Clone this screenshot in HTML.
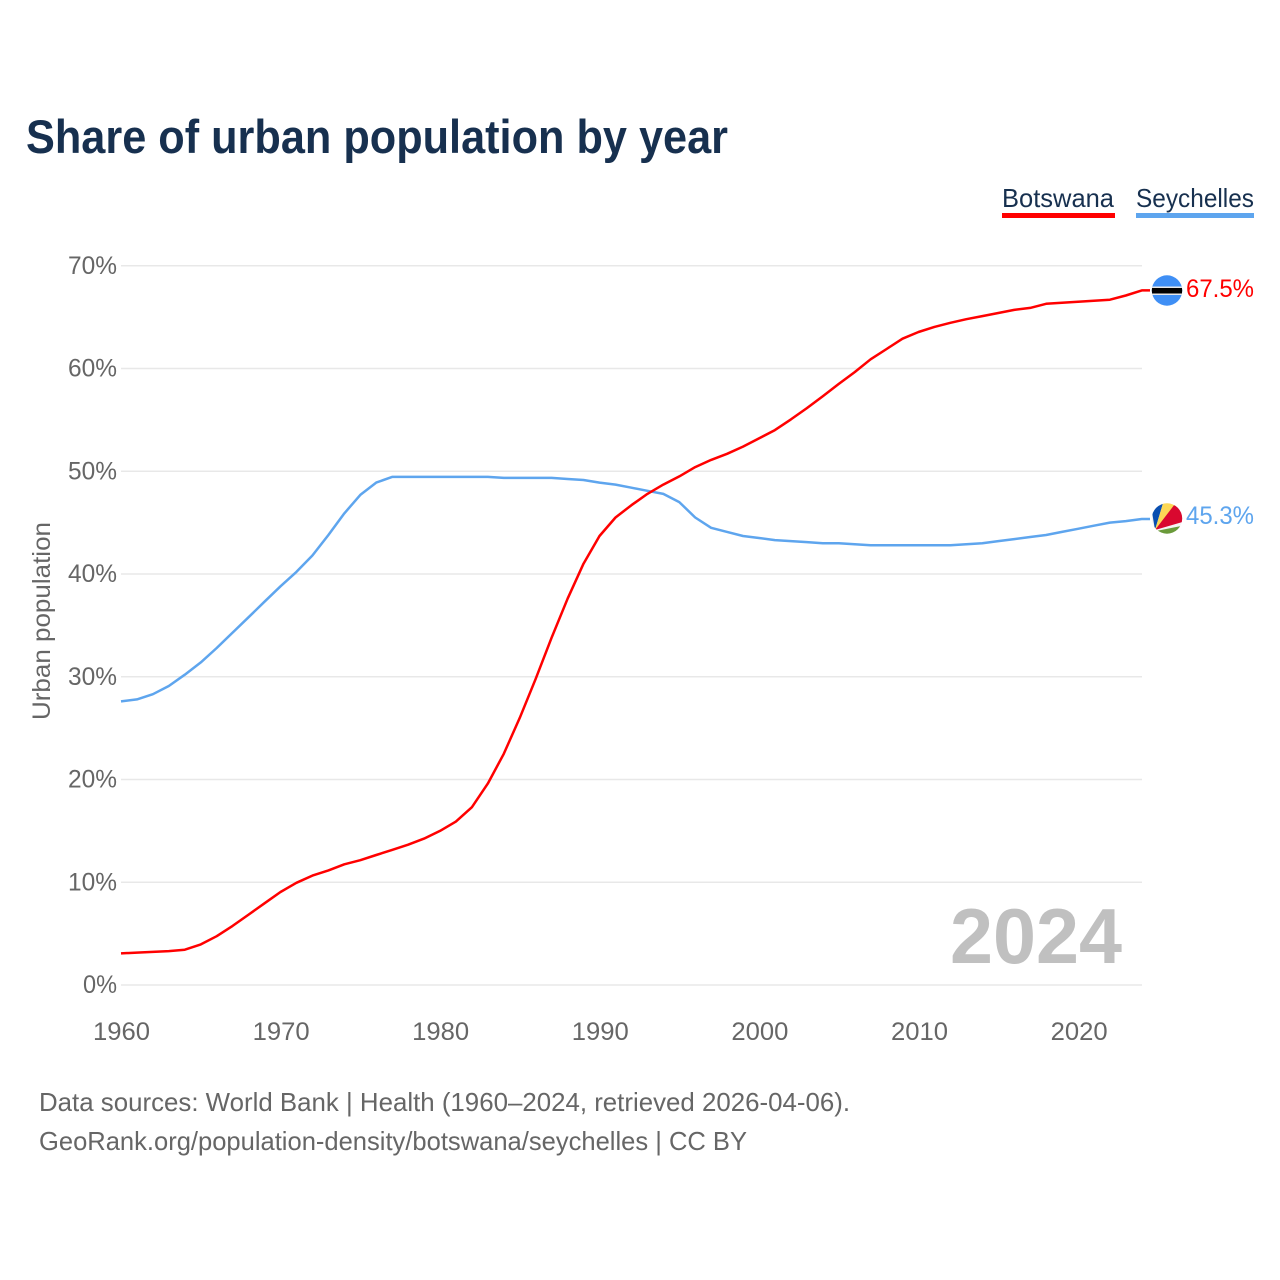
<!DOCTYPE html>
<html>
<head>
<meta charset="utf-8">
<title>Share of urban population by year</title>
<style>
html,body{margin:0;padding:0;background:#fff;width:1280px;height:1280px;overflow:hidden}
svg{display:block}
text{font-family:"Liberation Sans",sans-serif}
</style>
</head>
<body>
<svg id="chart" width="1280" height="1280" viewBox="0 0 1280 1280" xmlns="http://www.w3.org/2000/svg">
  <defs>
    <clipPath id="clip-bw"><circle cx="1167" cy="290.5" r="15.2"/></clipPath>
    <clipPath id="clip-sc"><circle cx="1167" cy="518.5" r="15.2"/></clipPath>
  </defs>
  <rect width="1280" height="1280" fill="#fff"/>
  <text x="26" y="153" font-size="47" font-weight="700" fill="#17304f" textLength="702" lengthAdjust="spacingAndGlyphs">Share of urban population by year</text>

  <g id="grid"></g>
  <g id="y-ticks"></g>
  <g id="x-ticks"></g>

  <text transform="translate(50,621) rotate(-90)" text-anchor="middle" font-size="25" fill="#666" textLength="198" lengthAdjust="spacingAndGlyphs">Urban population</text>

  <text x="1122" y="963" text-anchor="end" font-size="78" font-weight="700" fill="#c0c0c0" textLength="172" lengthAdjust="spacingAndGlyphs">2024</text>

  <g id="series"></g>

  <g clip-path="url(#clip-bw)">
    <rect x="1151" y="275" width="32" height="32" fill="#3f8ff5"/>
    <rect x="1151" y="286.5" width="32" height="8.5" fill="#e8e8e8"/>
    <rect x="1151" y="288" width="32" height="5.5" fill="#000"/>
  </g>
  <g clip-path="url(#clip-sc)">
    <rect x="1151" y="503" width="32" height="32" fill="#f4f4f4"/>
    <polygon points="1155,530 1150,500 1164,500" fill="#0a4fb0"/>
    <polygon points="1155,530 1164,500 1180,503" fill="#fcd856"/>
    <polygon points="1155,530 1178,500 1186,521" fill="#d9082f"/>
    <polygon points="1156,531 1186,525 1186,538 1156,538" fill="#6a9a3a"/>
  </g>

  <text x="1186" y="297" font-size="25" fill="#ff0000" textLength="68" lengthAdjust="spacingAndGlyphs">67.5%</text>
  <text x="1186" y="524" font-size="25" fill="#5ea5ee" textLength="68" lengthAdjust="spacingAndGlyphs">45.3%</text>

  <g>
    <text x="1002" y="207" font-size="26" fill="#17304f" textLength="112" lengthAdjust="spacingAndGlyphs">Botswana</text>
    <rect x="1002" y="213" width="113" height="5" fill="#ff0000"/>
  </g>
  <g>
    <text x="1136" y="207" font-size="26" fill="#17304f" textLength="118" lengthAdjust="spacingAndGlyphs">Seychelles</text>
    <rect x="1136" y="213" width="118" height="5" fill="#5ea5ee"/>
  </g>

  <text x="39" y="1111" font-size="26" fill="#666" textLength="811" lengthAdjust="spacingAndGlyphs">Data sources: World Bank | Health (1960–2024, retrieved 2026-04-06).</text>
  <text x="39" y="1150" font-size="26" fill="#666" textLength="708" lengthAdjust="spacingAndGlyphs">GeoRank.org/population-density/botswana/seychelles | CC BY</text>
</svg>
<script>
var startYear = 1960;
var botswana = [3.08,3.15,3.22,3.3,3.44,3.95,4.75,5.75,6.85,7.95,9.05,9.95,10.65,11.15,11.75,12.15,12.65,13.15,13.65,14.25,15.0,15.9,17.3,19.6,22.5,26.0,29.8,33.8,37.6,41.0,43.7,45.5,46.7,47.8,48.7,49.5,50.4,51.1,51.7,52.4,53.2,54.0,55.05,56.15,57.3,58.5,59.65,60.9,61.9,62.9,63.55,64.05,64.45,64.8,65.1,65.4,65.7,65.9,66.3,66.4,66.5,66.6,66.7,67.1,67.6];
var seychelles = [27.6,27.8,28.3,29.1,30.2,31.4,32.8,34.3,35.8,37.3,38.8,40.2,41.8,43.8,45.9,47.7,48.9,49.45,49.45,49.45,49.45,49.45,49.45,49.45,49.35,49.35,49.35,49.35,49.25,49.15,48.9,48.7,48.4,48.1,47.8,47.0,45.5,44.5,44.1,43.7,43.5,43.3,43.2,43.1,43.0,43.0,42.9,42.8,42.8,42.8,42.8,42.8,42.8,42.9,43.0,43.2,43.4,43.6,43.8,44.1,44.4,44.7,45.0,45.15,45.35];
var yTicks = [0,10,20,30,40,50,60,70];
var xTicks = [1960,1970,1980,1990,2000,2010,2020];

var NS = 'http://www.w3.org/2000/svg';
function xScale(year){ return 121 + (year - 1960) * 15.95; }
function xLabelPos(year){ return 121.5 + (year - 1960) * 15.96; }
function yScale(v){ return 985 - v * 10.275; }
function make(tag, attrs, parent){
  var el = document.createElementNS(NS, tag);
  for (var k in attrs) el.setAttribute(k, attrs[k]);
  parent.appendChild(el);
  return el;
}
var gridG = document.getElementById('grid');
var yG = document.getElementById('y-ticks');
var xG = document.getElementById('x-ticks');
var seriesG = document.getElementById('series');

yTicks.forEach(function(t){
  var line = make('line', {x1:121, x2:1142, y1:yScale(t), y2:yScale(t), stroke:'#e8e8e8', 'stroke-width':1.5}, gridG);
  
  
  var label = make('text', {x:117, y:yScale(t)+8, 'text-anchor':'end', 'font-size':25, fill:'#666', textLength:t===0?34:49, lengthAdjust:'spacingAndGlyphs'}, yG);
  
  
  label.textContent = t + '%';
});
xTicks.forEach(function(t){
  var label = make('text', {x:xLabelPos(t), y:1040, 'text-anchor':'middle', 'font-size':25, fill:'#666', textLength:57, lengthAdjust:'spacingAndGlyphs'}, xG);
  
  
  label.textContent = t;
});
function drawLine(values, color, name){
  var pts = values.map(function(v, i){ return xScale(startYear + i).toFixed(1) + ',' + yScale(v).toFixed(1); });
  var last = values[values.length - 1];
  pts.push('1150,' + yScale(last).toFixed(1));
  var path = make('polyline', {points:pts.join(' '), fill:'none', stroke:color, 'stroke-width':2.5, 'stroke-linejoin':'round'}, seriesG);
  
  
}
drawLine(seychelles, '#5ea5ee', 'line-seychelles');
drawLine(botswana, '#ff0000', 'line-botswana');
</script>
</body>
</html>
